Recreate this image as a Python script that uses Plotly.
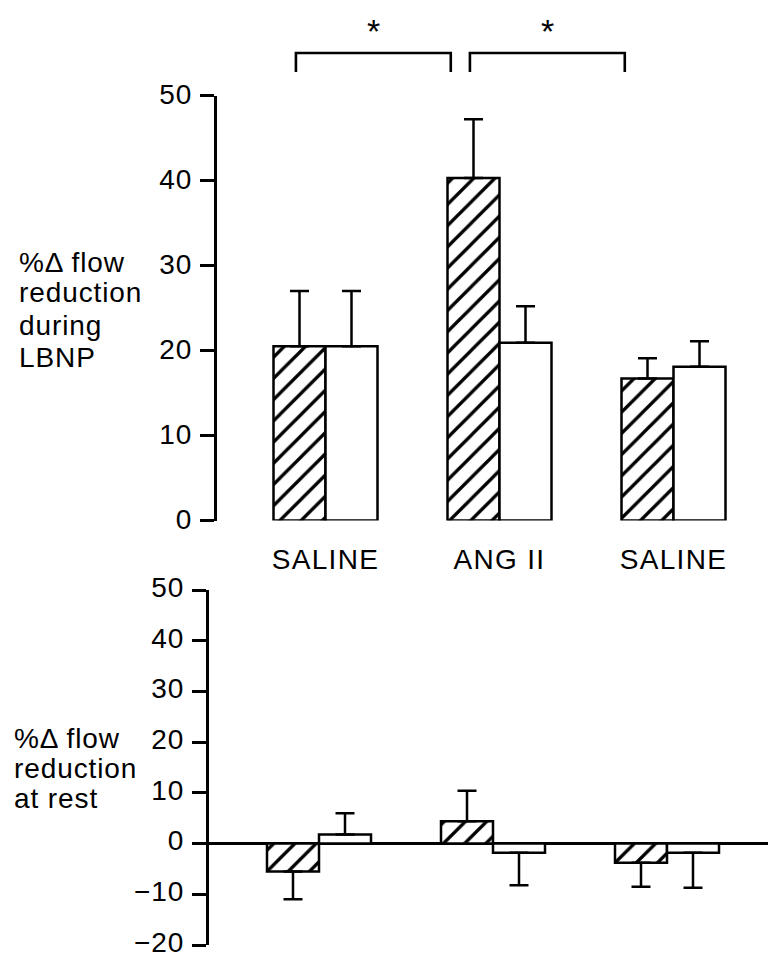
import plotly.graph_objects as go

# Treatment periods (x groups)
groups = ["SALINE", "ANG II", "SALINE"]

# % change in flow during LBNP (upper panel)
lbnp_hatched = [20.5, 40.3, 16.7]
lbnp_hatched_se = [6.5, 6.9, 2.4]
lbnp_open = [20.5, 20.9, 18.1]
lbnp_open_se = [6.5, 4.3, 3.0]

# % change in flow at rest (lower panel)
rest_hatched = [-5.5, 4.4, -3.8]
rest_hatched_se = [5.5, 6.0, 4.7]
rest_open = [1.8, -1.8, -1.8]
rest_open_se = [4.2, 6.4, 6.9]

# significance brackets between groups (index pairs)
sig_pairs = [(0, 1), (1, 2)]

top_ticks = [0, 10, 20, 30, 40, 50]
top_ticktext = ["0", "10", "20", "30", "40", "50"]
bottom_ticks = [-20, -10, 0, 10, 20, 30, 40, 50]
bottom_ticktext = ["\u221220", "\u221210", "0", "10", "20", "30", "40", "50"]

W, H = 768, 954
FONT = "Liberation Sans, Arial, Helvetica, sans-serif"
FS = 28


def spaced(s, px=1.0):
    return f'<span style="letter-spacing:{px}px">{s}</span>'


def err(values, se):
    plus = [e if v >= 0 else 0 for v, e in zip(values, se)]
    minus = [e if v < 0 else 0 for v, e in zip(values, se)]
    return dict(type="data", symmetric=False, array=plus, arrayminus=minus,
                color="black", thickness=2.5, width=9.5)


hatch = dict(shape="/", fgcolor="black", bgcolor="white", size=15,
             solidity=0.22, fillmode="replace")
outline = dict(color="black", width=2.5)
xs = list(range(len(groups)))

fig = go.Figure()
fig.add_bar(x=xs, y=lbnp_hatched, error_y=err(lbnp_hatched, lbnp_hatched_se),
            marker=dict(color="white", line=outline, pattern=hatch),
            xaxis="x", yaxis="y", name="hatched")
fig.add_bar(x=xs, y=lbnp_open, error_y=err(lbnp_open, lbnp_open_se),
            marker=dict(color="white", line=outline),
            xaxis="x", yaxis="y", name="open")
fig.add_bar(x=xs, y=rest_hatched, error_y=err(rest_hatched, rest_hatched_se),
            marker=dict(color="white", line=outline, pattern=hatch),
            xaxis="x2", yaxis="y2", name="hatched rest")
fig.add_bar(x=xs, y=rest_open, error_y=err(rest_open, rest_open_se),
            marker=dict(color="white", line=outline),
            xaxis="x2", yaxis="y2", name="open rest")

GROUP_PX = 174.0


def px_y(py):
    return 1 - py / H


top_x0, bot_x0 = 217.0, 209.0
top_c0, bot_c0 = 325.5, 319.0
top_range = [-(top_c0 - top_x0) / GROUP_PX, -(top_c0 - top_x0) / GROUP_PX + (W - top_x0) / GROUP_PX]
bot_range = [-(bot_c0 - bot_x0) / GROUP_PX, -(bot_c0 - bot_x0) / GROUP_PX + (W - bot_x0) / GROUP_PX]

yaxis_common = dict(showgrid=False, showline=True, linecolor="black", linewidth=3,
                    ticks="outside", ticklen=14, tickwidth=2.5, tickcolor="black",
                    tickfont=dict(family=FONT, size=FS, color="black"),
                    ticklabelstandoff=2, ticklabeloverflow="allow",
                    automargin=False, fixedrange=True)

fig.update_layout(
    width=W, height=H, autosize=False,
    margin=dict(l=0, r=0, t=0, b=0),
    paper_bgcolor="white", plot_bgcolor="white",
    showlegend=False, barmode="group", bargap=1 - 104 / GROUP_PX, bargroupgap=0,
    font=dict(family=FONT, size=FS, color="black"),
    xaxis=dict(domain=[top_x0 / W, 1], range=top_range, anchor="y",
               showgrid=False, zeroline=False, showline=False,
               tickvals=xs, ticktext=[spaced(g, 1.3) for g in groups],
               ticks="outside", ticklen=14, tickcolor="rgba(0,0,0,0)",
               tickfont=dict(family=FONT, size=FS, color="black"),
               ticklabeloverflow="allow", automargin=False, fixedrange=True),
    yaxis=dict(domain=[px_y(520.5), px_y(95.5)], range=[0, 50], anchor="x",
               zeroline=False, tickvals=top_ticks, ticklabelshift=-1,
               ticktext=[spaced(t) for t in top_ticktext], **yaxis_common),
    xaxis2=dict(domain=[bot_x0 / W, 1], range=bot_range, anchor="y2",
                showgrid=False, zeroline=False, showline=False,
                showticklabels=False, automargin=False, fixedrange=True),
    yaxis2=dict(domain=[px_y(945), px_y(590)], range=[-20, 50], anchor="x2",
                zeroline=True, zerolinecolor="black", zerolinewidth=2.5,
                tickvals=bottom_ticks, ticklabelshift=-3,
                ticktext=[spaced(t) for t in bottom_ticktext], **yaxis_common),
)

# significance brackets with asterisks
for a, b in sig_pairs:
    x0, x1 = a - 0.17, b - 0.28
    fig.add_shape(type="path", xref="x", yref="paper",
                  path=f"M {x0},{px_y(72)} L {x0},{px_y(53)} L {x1},{px_y(53)} L {x1},{px_y(72)}",
                  line=dict(color="black", width=2.6))
    fig.add_annotation(x=(x0 + x1) / 2, y=px_y(31), xref="x", yref="paper",
                       text="*", showarrow=False, font=dict(family=FONT, size=34),
                       xanchor="center", yanchor="middle")

# y-axis titles, one line each
top_title = ["%\u0394 flow", "reduction", "during", "LBNP"]
top_title_y = [262, 293, 325, 357]
bottom_title = ["%\u0394 flow", "reduction", "at rest"]
bottom_title_y = [738, 768, 798]
for txt, yy in zip(top_title, top_title_y):
    fig.add_annotation(x=17 / W, y=px_y(yy), xref="paper", yref="paper",
                       text=spaced(txt, 0.9), showarrow=False, xanchor="left",
                       yanchor="middle", font=dict(family=FONT, size=FS))
for txt, yy in zip(bottom_title, bottom_title_y):
    fig.add_annotation(x=12 / W, y=px_y(yy), xref="paper", yref="paper",
                       text=spaced(txt, 0.9), showarrow=False, xanchor="left",
                       yanchor="middle", font=dict(family=FONT, size=FS))

fig.write_html("out.html")
